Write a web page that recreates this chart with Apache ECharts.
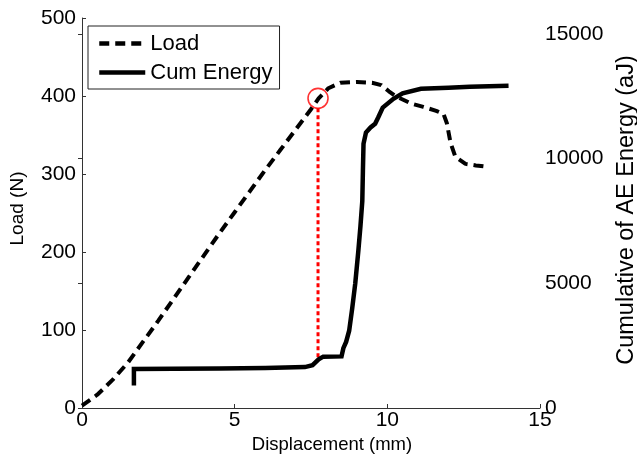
<!DOCTYPE html>
<html>
<head>
<meta charset="utf-8">
<script src="https://cdn.jsdelivr.net/npm/echarts@6/dist/echarts.min.js"></script>
<style>
  html, body { margin: 0; padding: 0; background: #fff; }
  #chart { width: 637px; height: 461px; }
</style>
</head>
<body>
<div id="chart"></div>
<script>
// Displacement (mm) vs. load (N)
const loadCurve = [
  [0, 3], [0.5, 17], [1, 36], [1.5, 58], [2, 85], [2.5, 112], [3, 140],
  [3.5, 168], [4, 196], [4.5, 224], [5, 251], [5.5, 278], [6, 305],
  [6.5, 331], [7, 357], [7.5, 383], [7.75, 397], [8.07, 410], [8.46, 417],
  [9, 418], [9.5, 417], [9.8, 414], [10.05, 406], [10.26, 400], [10.8, 390],
  [11.18, 386], [11.6, 381], [11.84, 377], [11.95, 365], [12.07, 340],
  [12.23, 322], [12.56, 313], [12.9, 311], [13.31, 309]
];

// Displacement (mm) vs. cumulative AE energy (aJ)
const energyCurve = [
  [1.7, 900], [1.7, 1560], [3, 1570], [4.5, 1580], [6, 1600], [7.3, 1640],
  [7.55, 1720], [7.75, 1950], [7.9, 2060], [8.5, 2070], [8.56, 2400],
  [8.65, 2650], [8.75, 3100], [8.85, 4000], [8.95, 5000], [9.05, 6300],
  [9.12, 7300], [9.18, 8300], [9.2, 9500], [9.22, 10600], [9.3, 11050],
  [9.45, 11250], [9.6, 11400], [9.7, 11650], [9.85, 12050], [10.2, 12400],
  [10.5, 12620], [11.1, 12800], [12, 12840], [12.7, 12880], [13.97, 12920]
];

// Marked point on the load curve and the energy level below it
const yieldDisp = 7.73;
const yieldLoad = 397;
const yieldEnergy = 1950;

const xTicks = [0, 5, 10, 15];
const loadTicks = [0, 100, 200, 300, 400, 500];
const energyTicks = [0, 5000, 10000, 15000];

const FONT = 'Liberation Sans, Arial, Helvetica, sans-serif';
const AXIS_COLOR = '#333';
const plain = v => String(v);

const chart = echarts.init(document.getElementById('chart'), null, { renderer: 'canvas' });

const option = {
  animation: false,
  backgroundColor: '#fff',
  textStyle: { fontFamily: FONT, color: '#000' },
  // Two overlaid plot areas sharing the displacement span; the energy axis stops lower
  grid: [
    { left: 82, right: 97, top: 18, bottom: 53, containLabel: false, outerBoundsMode: 'none' },
    { left: 82, right: 97, top: 34, bottom: 53, containLabel: false, outerBoundsMode: 'none' }
  ],
  legend: {
    orient: 'vertical',
    left: 88,
    top: 26,
    padding: [6, 7, 5, 9],
    borderColor: '#222',
    borderWidth: 1,
    backgroundColor: '#fff',
    itemWidth: 46,
    itemHeight: 14,
    itemGap: 6,
    itemStyle: { opacity: 0 },
    lineStyle: { width: 4.5 },
    textStyle: { fontFamily: FONT, fontSize: 22, color: '#000', lineHeight: 23 },
    data: ['Load', 'Cum Energy']
  },
  xAxis: [
    {
      gridIndex: 0, type: 'value',
      min: xTicks[0], max: xTicks[xTicks.length - 1], interval: 5,
      name: 'Displacement (mm)', nameLocation: 'middle', nameGap: 23,
      nameTextStyle: { fontSize: 18.5, fontFamily: FONT, color: '#000', padding: [0, 0, 0, 42] },
      axisLine: { lineStyle: { color: AXIS_COLOR, width: 1 } },
      axisTick: { inside: true, length: 4, lineStyle: { color: AXIS_COLOR } },
      axisLabel: { fontSize: 21, color: '#000', margin: 2, fontFamily: FONT, formatter: plain },
      splitLine: { show: false }
    },
    {
      gridIndex: 1, type: 'value',
      min: xTicks[0], max: xTicks[xTicks.length - 1], interval: 5,
      show: false
    }
  ],
  yAxis: [
    {
      gridIndex: 0, type: 'value', position: 'left',
      min: loadTicks[0], max: loadTicks[loadTicks.length - 1], interval: 100,
      name: 'Load (N)', nameLocation: 'middle', nameGap: 55, nameRotate: 90,
      nameTextStyle: { fontSize: 19, fontFamily: FONT, color: '#000', padding: [0, 0, 0, 9] },
      axisLine: { show: true, lineStyle: { color: AXIS_COLOR, width: 1 } },
      axisTick: { show: true, inside: true, length: 4, lineStyle: { color: AXIS_COLOR } },
      axisLabel: { fontSize: 21, color: '#000', margin: 6, fontFamily: FONT, formatter: plain },
      splitLine: { show: false }
    },
    {
      gridIndex: 1, type: 'value', position: 'right',
      min: energyTicks[0], max: energyTicks[energyTicks.length - 1], interval: 5000,
      name: 'Cumulative of AE Energy (aJ)', nameLocation: 'middle', nameGap: 72, nameRotate: 90,
      nameTextStyle: { fontSize: 23.5, fontFamily: FONT, color: '#000', padding: [0, 0, 0, 22] },
      axisLine: { show: true, lineStyle: { color: AXIS_COLOR, width: 1 } },
      axisTick: { show: true, inside: true, length: 4, lineStyle: { color: AXIS_COLOR } },
      axisLabel: { fontSize: 21, color: '#000', margin: 5, fontFamily: FONT, formatter: plain },
      splitLine: { show: false }
    }
  ],
  series: [
    {
      name: 'Cum Energy', type: 'line',
      xAxisIndex: 1, yAxisIndex: 1,
      data: energyCurve,
      showSymbol: false, symbol: 'none',
      lineStyle: { color: '#000', width: 4.5, join: 'miter' },
      itemStyle: { color: '#000' },
      z: 3
    },
    {
      name: 'Load', type: 'line',
      xAxisIndex: 0, yAxisIndex: 0,
      data: loadCurve,
      showSymbol: false, symbol: 'none',
      lineStyle: { color: '#000', width: 4, type: [10, 6] },
      itemStyle: { color: '#000' },
      z: 4
    },
    {
      name: 'yield', type: 'scatter',
      xAxisIndex: 0, yAxisIndex: 0,
      data: [[yieldDisp, yieldLoad]],
      symbol: 'circle', symbolSize: 20,
      itemStyle: { color: 'rgba(0,0,0,0)', borderColor: '#ff0000', borderWidth: 1.6 },
      silent: true,
      z: 5
    }
  ]
};

chart.setOption(option);

// Dotted drop line from the marked load point down to the energy curve
const dropTop = chart.convertToPixel({ xAxisIndex: 0, yAxisIndex: 0 }, [yieldDisp, yieldLoad]);
const dropBottom = chart.convertToPixel({ xAxisIndex: 1, yAxisIndex: 1 }, [yieldDisp, yieldEnergy]);
chart.setOption({
  graphic: [{
    type: 'line',
    shape: { x1: dropTop[0], y1: dropTop[1] + 10, x2: dropBottom[0], y2: dropBottom[1] },
    style: { stroke: '#ff0000', lineWidth: 3, lineDash: [4, 3] },
    z: 2
  }]
});
</script>
</body>
</html>
